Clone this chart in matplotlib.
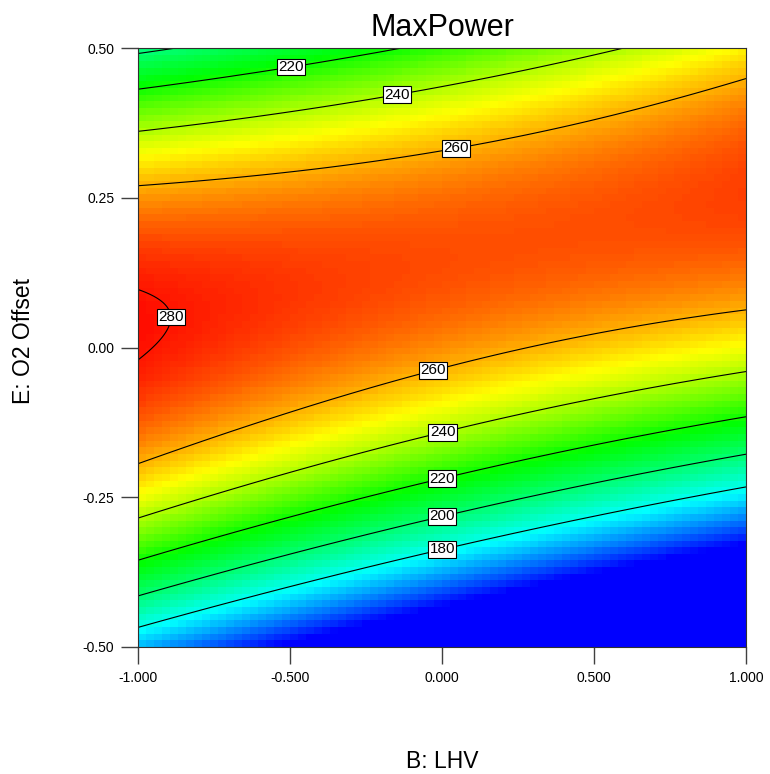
import numpy as np
import matplotlib
matplotlib.use("Agg")
import matplotlib.pyplot as plt
from matplotlib.colors import LinearSegmentedColormap, Normalize

plt.rcParams['font.family'] = ['Liberation Sans', 'DejaVu Sans']

# quadratic response-surface model, coded factors B (x) and E (y)
coef_names = ['const', 'B', 'E', 'BE', 'B^2', 'E^2']
coef_values = [264.5, -16.0, 116.7, 86.5, 0.3, -397.0]

levels = [180, 200, 220, 240, 260, 280]
label_points = [(-0.50, 0.475), (-0.15, 0.427), (0.044, 0.338), (-0.88, 0.051),
                (-0.03, -0.036), (0.0, -0.138), (0.0, -0.220), (0.0, -0.280),
                (0.0, -0.335)]

# colour stops (response value -> colour), Design-Expert style
stop_values = [140, 177, 218, 250, 283]
stop_colors = ['#0000ff', '#00ffff', '#00ff00', '#ffff00', '#ff0000']

xticks = [-1.0, -0.5, 0.0, 0.5, 1.0]
yticks = [-0.50, -0.25, 0.00, 0.25, 0.50]


def response(b, e):
    c = dict(zip(coef_names, coef_values))
    return (c['const'] + c['B'] * b + c['E'] * e + c['BE'] * b * e
            + c['B^2'] * b ** 2 + c['E^2'] * e ** 2)


fig = plt.figure(figsize=(7.7, 7.74), dpi=100)
ax = fig.add_axes([138 / 770, 1 - 647 / 774, 608 / 770, 599 / 774])

vmin, vmax = stop_values[0], stop_values[-1]
pos = [(v - vmin) / (vmax - vmin) for v in stop_values]
cmap = LinearSegmentedColormap.from_list('de', list(zip(pos, stop_colors)))
norm = Normalize(vmin=vmin, vmax=vmax, clip=True)

# coarse colour grid (blocky like the original)
xe = np.linspace(-1, 1, 77)
ye = np.linspace(-0.5, 0.5, 91)
xc = (xe[:-1] + xe[1:]) / 2
yc = (ye[:-1] + ye[1:]) / 2
XC, YC = np.meshgrid(xc, yc)
ax.pcolormesh(xe, ye, response(XC, YC), cmap=cmap, norm=norm, shading='flat')

# fine grid for contour lines
xf = np.linspace(-1, 1, 300)
yf = np.linspace(-0.5, 0.5, 300)
XF, YF = np.meshgrid(xf, yf)
cs = ax.contour(XF, YF, response(XF, YF), levels=levels, colors='black', linewidths=0.8)
texts = ax.clabel(cs, fmt='%d', fontsize=11, inline=False, manual=label_points)
for t in texts:
    t.set_rotation(0)
    t.set_bbox(dict(facecolor='white', edgecolor='black', linewidth=0.8, pad=1.0))
    t.set_zorder(5)

ax.set_xlim(-1, 1)
ax.set_ylim(-0.5, 0.5)
ax.set_xticks(xticks)
ax.set_xticklabels(['%.3f' % v for v in xticks])
ax.set_yticks(yticks)
ax.set_yticklabels(['%.2f' % v for v in yticks])
ax.tick_params(direction='out', length=12, width=1, color='#404040', labelsize=10, pad=5)
for s in ax.spines.values():
    s.set_color('#303030')
    s.set_linewidth(0.8)

ax.set_title('MaxPower', fontsize=22, pad=9)
fig.text(442 / 770, 1 - 762 / 774, 'B: LHV', fontsize=16.5, ha='center', va='center')
fig.text(24 / 770, 1 - 341 / 774, 'E: O2 Offset', fontsize=16.5, ha='center', va='center',
         rotation=90)

plt.savefig('out.png', dpi=100)
